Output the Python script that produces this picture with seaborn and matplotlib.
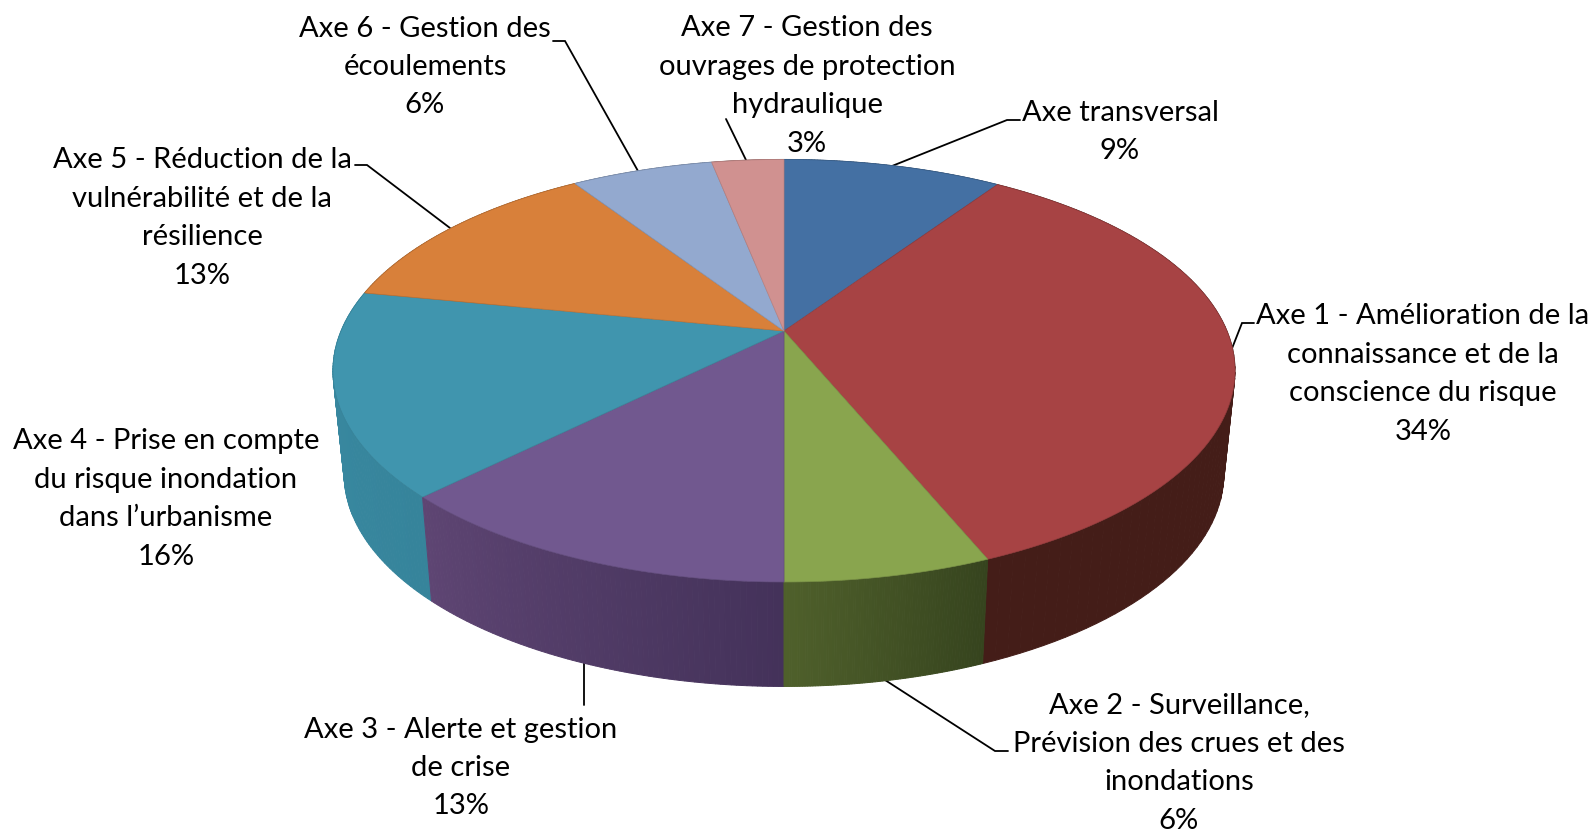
import numpy as np
import matplotlib.pyplot as plt
import seaborn as sns

# parts, clockwise from the top of the pie
labels = [
    "Axe transversal",
    "Axe 1 - Amélioration de la\nconnaissance et de la\nconscience du risque",
    "Axe 2 - Surveillance,\nPrévision des crues et des\ninondations",
    "Axe 3 - Alerte et gestion\nde crise",
    "Axe 4 - Prise en compte\ndu risque inondation\ndans l\u2019urbanisme",
    "Axe 5 - Réduction de la\nvulnérabilité et de la\nrésilience",
    "Axe 6 - Gestion des\nécoulements",
    "Axe 7 - Gestion des\nouvrages de protection\nhydraulique",
]
values = [9.4, 34.4, 6.2, 12.51, 15.59, 12.7, 6.1, 3.1]

top_colors = ["#4470A3", "#A74344", "#89A54E", "#71588F", "#4095AE", "#D8803A", "#93A9CF", "#D09190"]
side_start = ["#2A4566", "#431C17", "#36441E", "#44325A", "#36849B", "#8A5225", "#5E6C85", "#85605F"]
side_end = ["#2A4566", "#441D18", "#4F602B", "#5E4573", "#3A8BA3", "#8A5225", "#5E6C85", "#85605F"]

label_pos = [(1120, 132), (1423, 374), (1179, 763), (461, 768), (166, 499), (202, 218), (425, 67), (807, 86)]

leaders = [
    [(892, 166), (1007, 120), (1020, 120)],
    [(1231, 351), (1242, 323), (1254, 323)],
    [(885, 680), (995, 751), (1008, 751)],
    [(584, 663), (584, 705)],
    [(450, 228), (367, 165), (355, 165)],
    [(638, 171), (565, 41), (553, 41)],
    [(746, 160), (726, 119)],
]

CX = 784
TOP_Y, TOP_A, TOP_S = 331, 203.8, 443
BOT_Y, BOT_A, BOT_S = 434, 205, 432
PERSP = 0.188

sns.set_theme(style="white")
plt.rcParams['font.family'] = ['Lato', 'DejaVu Sans']
top_palette = sns.color_palette(top_colors)


def rim(theta, cy, a, s):
    # theta in radians, clockwise from the back of the disc
    x = np.sin(theta)
    y = -np.cos(theta)
    w = 1 - PERSP * y
    return CX + s * x / w, cy + a * y / w


fig, ax = plt.subplots(figsize=(15.92, 8.32), dpi=100)
fig.subplots_adjust(0, 0, 1, 1)
ax.set_xlim(0, 1592)
ax.set_ylim(832, 0)
ax.axis("off")

edges = np.deg2rad(np.cumsum([0] + values) * 3.6)

# wall first, from the back to the front
quads = []
for i in range(len(values)):
    th = np.linspace(edges[i], edges[i + 1], 80)
    c0 = np.array(plt.matplotlib.colors.to_rgb(side_start[i]))
    c1 = np.array(plt.matplotlib.colors.to_rgb(side_end[i]))
    for j in range(len(th) - 1):
        xt, yt = rim(th[j:j + 2], TOP_Y, TOP_A, TOP_S)
        xb, yb = rim(th[j:j + 2], BOT_Y, BOT_A, BOT_S)
        col = c0 + (c1 - c0) * j / (len(th) - 2)
        quads.append((yb.mean(), xt, yt, xb, yb, col))
quads.sort(key=lambda q: q[0])
for _, xt, yt, xb, yb, col in quads:
    ax.fill([xt[0], xt[1], xb[1], xb[0]], [yt[0], yt[1], yb[1], yb[0]],
            color=col, lw=0.7, zorder=2)

# top face
for i in range(len(values)):
    th = np.linspace(edges[i], edges[i + 1], 120)
    x, y = rim(th, TOP_Y, TOP_A, TOP_S)
    edge = tuple(v * 0.88 for v in top_palette[i])
    ax.fill(np.r_[CX, x], np.r_[TOP_Y, y], facecolor=top_palette[i],
            edgecolor=edge, lw=0.5, zorder=3)

for pts in leaders:
    ax.plot(*zip(*pts), color="black", lw=1.3, zorder=1, solid_joinstyle="miter")

for name, val, (tx, ty) in zip(labels, values, label_pos):
    ax.text(tx, ty, f"{name}\n{round(val)}%", ha="center", va="center",
            fontsize=21, color="black", linespacing=1.59, zorder=5)

fig.savefig("out.png", dpi=100)
